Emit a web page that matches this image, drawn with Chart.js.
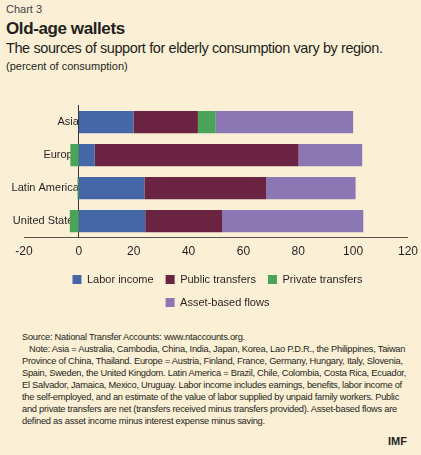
<!DOCTYPE html>
<html><head><meta charset="utf-8">
<script src="https://cdn.jsdelivr.net/npm/chart.js@4"></script>
<style>
body{margin:0;background:#fbf0d6;font-family:"Liberation Sans",sans-serif;width:421px;height:455px;overflow:hidden;position:relative;color:#231f20}
#hd{position:absolute;left:6px;top:3px}
.c3{font-size:11px;color:#444}
.t{font-size:17px;font-weight:bold;margin-top:4px;letter-spacing:-0.4px}
.s{font-size:14.5px;margin-top:1px;letter-spacing:-0.4px}
.u{font-size:11px;margin-top:4px}
#cw{position:absolute;left:0;top:96px;width:421px;height:222px}
#nt{position:absolute;left:22px;top:331px;width:394px;font-size:9.3px;line-height:12px;letter-spacing:-0.25px}
#imf{position:absolute;right:14px;bottom:8px;font-size:11px;font-weight:bold}
</style></head><body>
<div id="hd"><div class="c3">Chart 3</div><div class="t">Old-age wallets</div><div class="s">The sources of support for elderly consumption vary by region.</div><div class="u">(percent of consumption)</div></div>
<div id="cw"><canvas id="c"></canvas></div>
<div id="nt">Source: National Transfer Accounts: www.ntaccounts.org.<br>&nbsp;&nbsp;&nbsp;Note: Asia = Australia, Cambodia, China, India, Japan, Korea, Lao P.D.R., the Philippines, Taiwan Province of China, Thailand. Europe = Austria, Finland, France, Germany, Hungary, Italy, Slovenia, Spain, Sweden, the United Kingdom. Latin America = Brazil, Chile, Colombia, Costa Rica, Ecuador, El Salvador, Jamaica, Mexico, Uruguay. Labor income includes earnings, benefits, labor income of the self-employed, and an estimate of the value of labor supplied by unpaid family workers. Public and private transfers are net (transfers received minus transfers provided). Asset-based flows are defined as asset income minus interest expense minus saving.</div>
<div id="imf">IMF</div>
<script>
const categories=["Asia","Europe","Latin America","United States"];
const laborIncome=[19.9,5.8,23.9,24.2];
const publicTransfers=[23.5,74.3,44.4,28.0];
const privateTransfers=[6.5,-3.1,-0.5,-3.3];
const assetFlows=[50.1,23.2,32.6,51.5];
const xTicks=[-20,0,20,40,60,80,100,120];
const mk=(l,d,c)=>({label:l,data:d,backgroundColor:c,borderWidth:0,barPercentage:0.68,categoryPercentage:1});
new Chart(document.getElementById('c'),{type:'bar',
data:{labels:categories,datasets:[mk('Labor income',laborIncome,'#4567a7'),mk('Public transfers',publicTransfers,'#6a2340'),mk('Private transfers',privateTransfers,'#4ba35a'),mk('Asset-based flows',assetFlows,'#8b77b3')]},
options:{indexAxis:'y',responsive:true,maintainAspectRatio:false,animation:false,
layout:{padding:{left:24,right:10,top:2}},
scales:{x:{stacked:true,min:-20,max:120,afterBuildTicks:a=>{a.ticks=xTicks.map(v=>({value:v}))},grid:{display:false,drawTicks:true,tickLength:4,color:'#555'},border:{color:'#555'},ticks:{color:'#231f20',font:{size:12}}},
y:{stacked:true,position:{x:0},grid:{display:false,tickLength:4},border:{color:'#333'},ticks:{color:'#231f20',font:{size:11}}}},
plugins:{legend:{position:'bottom',labels:{boxWidth:9,boxHeight:9,padding:12,color:'#231f20',font:{size:11}}},tooltip:{enabled:false}}}});
</script></body></html>
